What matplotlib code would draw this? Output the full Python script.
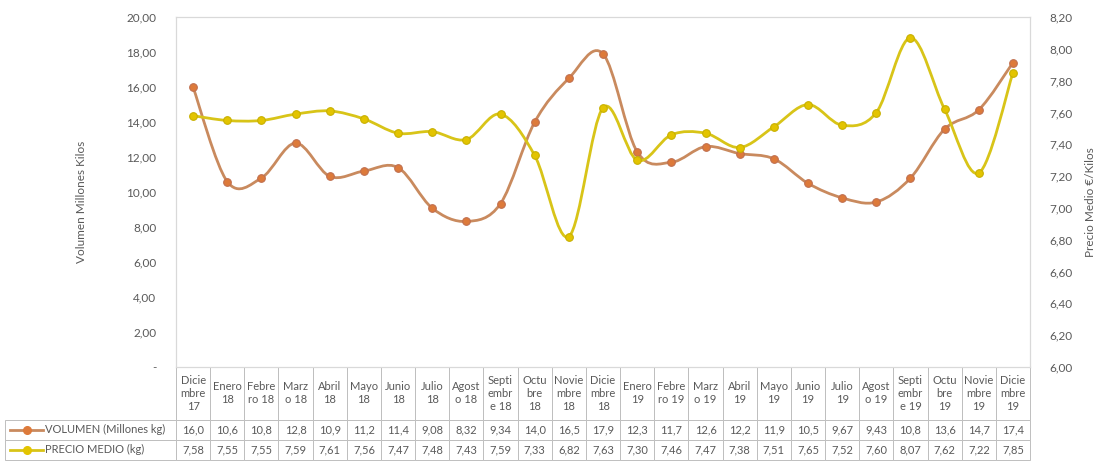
import numpy as np
import matplotlib
matplotlib.use("Agg")
import matplotlib.pyplot as plt
from matplotlib.path import Path
from matplotlib.patches import PathPatch
from matplotlib.lines import Line2D

plt.rcParams["font.family"] = ["Lato", "DejaVu Sans"]

months = ["Dicie\nmbre\n17", "Enero\n18", "Febre\nro 18", "Marz\no 18", "Abril\n18",
          "Mayo\n18", "Junio\n18", "Julio\n18", "Agost\no 18", "Septi\nembr\ne 18",
          "Octu\nbre\n18", "Novie\nmbre\n18", "Dicie\nmbre\n18", "Enero\n19",
          "Febre\nro 19", "Marz\no 19", "Abril\n19", "Mayo\n19", "Junio\n19",
          "Julio\n19", "Agost\no 19", "Septi\nembr\ne 19", "Octu\nbre\n19",
          "Novie\nmbre\n19", "Dicie\nmbre\n19"]
volumen = [16.0, 10.6, 10.8, 12.8, 10.9, 11.2, 11.4, 9.08, 8.32, 9.34, 14.0, 16.5, 17.9,
           12.3, 11.7, 12.6, 12.2, 11.9, 10.5, 9.67, 9.43, 10.8, 13.6, 14.7, 17.4]
precio = [7.58, 7.55, 7.55, 7.59, 7.61, 7.56, 7.47, 7.48, 7.43, 7.59, 7.33, 6.82, 7.63,
          7.30, 7.46, 7.47, 7.38, 7.51, 7.65, 7.52, 7.60, 8.07, 7.62, 7.22, 7.85]
series_names = ["VOLUMEN (Millones kg)", "PRECIO MEDIO (kg)"]

GREY = "#595959"
EDGE = "#BFBFBF"
VOL_LINE, VOL_MARK = "#C98A5E", "#DD7A3A"
PRE_LINE, PRE_MARK = "#D8C418", "#E3C400"


def smooth_path(x, y):
    # excel style smoothed line: cubic bezier through every point
    x = np.asarray(x, float)
    y = np.asarray(y, float)
    n = len(x)
    verts = [(x[0], y[0])]
    codes = [Path.MOVETO]
    for i in range(n - 1):
        i0 = max(i - 1, 0)
        i3 = min(i + 2, n - 1)
        c1 = (x[i] + (x[i + 1] - x[i0]) / 6, y[i] + (y[i + 1] - y[i0]) / 6)
        c2 = (x[i + 1] - (x[i3] - x[i]) / 6, y[i + 1] - (y[i3] - y[i]) / 6)
        verts += [c1, c2, (x[i + 1], y[i + 1])]
        codes += [Path.CURVE4] * 3
    return Path(verts, codes)


fig = plt.figure(figsize=(11.02, 4.62), dpi=100)
ax = fig.add_axes([0.1597, 0.2056, 0.775, 0.7574])
ax2 = ax.twinx()

xs = np.arange(len(months))
ax.add_patch(PathPatch(smooth_path(xs, volumen), fill=False, ec=VOL_LINE, lw=2,
                       zorder=3))
ax.plot(xs, volumen, "o", ms=5.5, mfc=VOL_MARK, mec="#C07050", mew=0.8, zorder=4)
ax2.add_patch(PathPatch(smooth_path(xs, precio), fill=False, ec=PRE_LINE, lw=2,
                        zorder=3))
ax2.plot(xs, precio, "o", ms=5.5, mfc=PRE_MARK, mec="#C8B000", mew=0.8, zorder=4)

ax.set_xlim(-0.5, len(months) - 0.5)
ax.set_ylim(0, 20)
ax2.set_ylim(6, 8.2)
ax.set_xticks([])

lt = np.arange(0, 21, 2)
ax.set_yticks(lt)
ax.set_yticklabels(["-"] + [f"{v:.2f}".replace(".", ",") for v in lt[1:]])
rt = np.round(np.arange(6.0, 8.21, 0.2), 2)
ax2.set_yticks(rt)
ax2.set_yticklabels([f"{v:.2f}".replace(".", ",") for v in rt])
for a in (ax, ax2):
    a.tick_params(length=0, labelsize=8.5, colors=GREY)
    for s in a.spines.values():
        s.set_color("#D9D9D9")
        s.set_linewidth(0.8)
ax.tick_params(pad=14)
ax2.tick_params(pad=14)

ax.set_ylabel("Volumen Millones Kilos", fontsize=8.5, color=GREY)
ax.yaxis.set_label_coords(-0.104, 0.471)
ax2.set_ylabel("Precio Medio €/Kilos", fontsize=8.5, color=GREY, rotation=90)
ax2.yaxis.set_label_coords(1.064, 0.471)

# data table below the plot, first column holds the series names
fmt_vol = [(f"{v:.1f}" if v >= 10 else f"{v:.2f}").replace(".", ",") for v in volumen]
fmt_pre = [f"{v:.2f}".replace(".", ",") for v in precio]
ax_w = 854.0
tbl = ax.table(cellText=[[series_names[0]] + fmt_vol, [series_names[1]] + fmt_pre],
               colLabels=[""] + months,
               colWidths=[171 / ax_w] + [34.16 / ax_w] * len(months),
               cellLoc="center", colLoc="center",
               bbox=[-0.2002, -0.2657, 1.2002, 0.2657])
tbl.auto_set_font_size(False)
tbl.set_fontsize(8)
for (r, c), cell in tbl.get_celld().items():
    cell.set_edgecolor(EDGE)
    cell.set_linewidth(0.7)
    cell.get_text().set_color(GREY)
    cell.set_height(52 if r == 0 else 20)
    if c == 0:
        if r == 0:
            cell.visible_edges = "R"
        else:
            cell.get_text().set_horizontalalignment("left")
            cell.PAD = 0.235

for yk, lc, mc in [(-0.18, VOL_LINE, VOL_MARK), (-0.237, PRE_LINE, PRE_MARK)]:
    ax.add_line(Line2D([-0.194, -0.156], [yk, yk], transform=ax.transAxes, color=lc,
                       lw=2, clip_on=False))
    ax.add_line(Line2D([-0.175], [yk], transform=ax.transAxes, marker="o", ms=5.5,
                       color=mc, clip_on=False))

fig.savefig("out.png", dpi=100)
